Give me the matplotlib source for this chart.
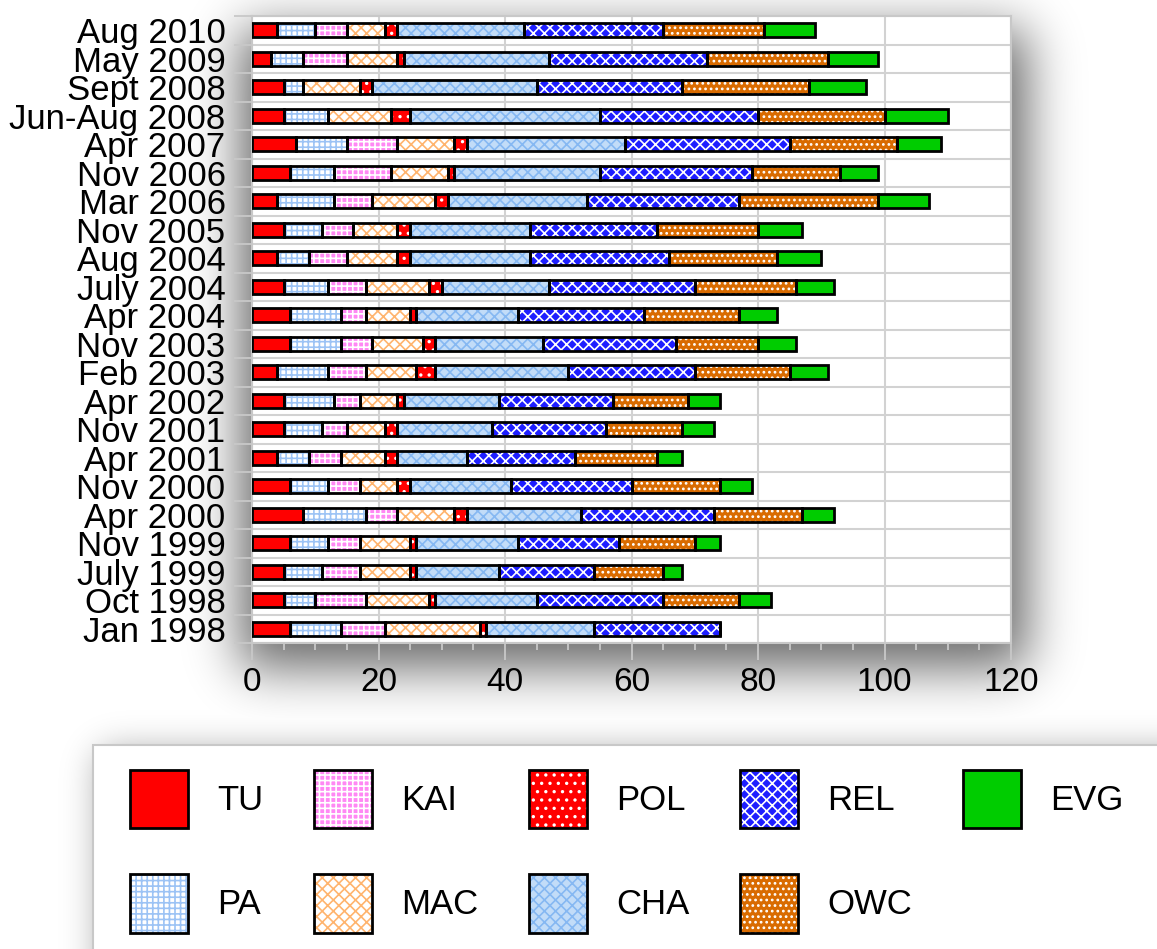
import math
import numpy as np
import matplotlib
matplotlib.use("Agg")
import matplotlib.pyplot as plt
from matplotlib.patches import Rectangle

plt.rcParams['font.family'] = ['Liberation Sans', 'DejaVu Sans']
plt.rcParams['hatch.linewidth'] = 1.2

# survey dates, top to bottom
categories = ["Aug 2010", "May 2009", "Sept 2008", "Jun-Aug 2008", "Apr 2007",
              "Nov 2006", "Mar 2006", "Nov 2005", "Aug 2004", "July 2004",
              "Apr 2004", "Nov 2003", "Feb 2003", "Apr 2002", "Nov 2001",
              "Apr 2001", "Nov 2000", "Apr 2000", "Nov 1999", "July 1999",
              "Oct 1998", "Jan 1998"]

TU = [4, 3, 5, 5, 7, 6, 4, 5, 4, 5, 6, 6, 4, 5, 5, 4, 6, 8, 6, 5, 5, 6]
PA = [6, 5, 3, 7, 8, 7, 9, 6, 5, 7, 8, 8, 8, 8, 6, 5, 6, 10, 6, 6, 5, 8]
KAI = [5, 7, 0, 0, 8, 9, 6, 5, 6, 6, 4, 5, 6, 4, 4, 5, 5, 5, 5, 6, 8, 7]
MAC = [6, 8, 9, 10, 9, 9, 10, 7, 8, 10, 7, 8, 8, 6, 6, 7, 6, 9, 8, 8, 10, 15]
POL = [2, 1, 2, 3, 2, 1, 2, 2, 2, 2, 1, 2, 3, 1, 2, 2, 2, 2, 1, 1, 1, 1]
CHA = [20, 23, 26, 30, 25, 23, 22, 19, 19, 17, 16, 17, 21, 15, 15, 11, 16, 18, 16, 13, 16, 17]
REL = [22, 25, 23, 25, 26, 24, 24, 20, 22, 23, 20, 21, 20, 18, 18, 17, 19, 21, 16, 15, 20, 20]
OWC = [16, 19, 20, 20, 17, 14, 22, 16, 17, 16, 15, 13, 15, 12, 12, 13, 14, 14, 12, 11, 12, 0]
EVG = [8, 8, 9, 10, 7, 6, 8, 7, 7, 6, 6, 6, 6, 5, 5, 4, 5, 5, 4, 3, 5, 0]

series_names = ["TU", "PA", "KAI", "MAC", "POL", "CHA", "REL", "OWC", "EVG"]
series_vals = [TU, PA, KAI, MAC, POL, CHA, REL, OWC, EVG]
# (face, hatch, hatch colour)
styles = [
    ("#ff0000", None, None),
    ("#ffffff", "+++", "#9cc3f5"),
    ("#ff88f4", "+++", "#ffffff"),
    ("#ffffff", "xxx", "#ffb46e"),
    ("#ff0000", "..", "#ffffff"),
    ("#c2dcf8", "xxx", "#86b8f2"),
    ("#1e1eff", "xxx", "#ffffff"),
    ("#d96b00", "...", "#ffffff"),
    ("#00cc00", None, None),
]

W, H = 1157, 949
fig = plt.figure(figsize=(W / 100, H / 100), dpi=100)

# background: soft drop shadows + legend frame
bg = fig.add_axes([0, 0, 1, 1], zorder=0)
bg.set_xlim(0, W)
bg.set_ylim(H, 0)
bg.axis('off')

erf = np.vectorize(math.erf)


def soft(n, a, b, s):
    c = np.arange(n) + 0.5
    return 0.5 * (erf((c - a) / (s * 1.4142)) - erf((c - b) / (s * 1.4142)))


sh1 = 0.6 * np.outer(soft(H, 30, 668, 26), soft(W, 240, 1027, 25))
sh2 = 0.40 * np.outer(soft(H, 752, 1100, 18), soft(W, 100, 1300, 18))
alpha = np.maximum(sh1, sh2)
img = np.zeros((H, W, 4))
img[..., 3] = alpha
bg.imshow(img, extent=[0, W, H, 0], interpolation='bilinear', zorder=0)
bg.add_patch(Rectangle((93, 745), 1120, 260, facecolor='white',
                       edgecolor='#c8c8c8', lw=1.5, zorder=1))

ax = fig.add_axes([252 / W, 1 - 643 / H, (1011 - 252) / W, (643 - 16) / H], zorder=1)
ax.set_facecolor('white')

y = np.arange(len(categories))
left = np.zeros(len(categories))
handles = []
for name, vals, (fc, hatch, hc) in zip(series_names, series_vals, styles):
    vals = np.array(vals, dtype=float)
    fill = ax.barh(y, vals, left=left, height=0.5, color=fc,
                   edgecolor=hc if hc else fc, linewidth=0, hatch=hatch, zorder=2)
    edge = ax.barh(y, vals, left=left, height=0.5, fill=False,
                   edgecolor='black', linewidth=2, zorder=3)
    handles.append((fill[0], edge[0]))
    left += vals

ax.set_xlim(0, 120)
ax.set_ylim(len(categories) - 0.5, -0.5)
ax.set_xticks(np.arange(0, 121, 20))
ax.set_xticks(np.arange(0, 121, 5), minor=True)
ax.set_yticks(np.arange(-0.5, len(categories), 1))
ax.set_yticks(y, labels=categories, minor=True)

ax.tick_params(axis='y', which='major', length=13, width=1.3, color='#c8c8c8', labelleft=False)
ax.tick_params(axis='y', which='minor', length=0, pad=19, labelsize=25)
ax.tick_params(axis='x', which='major', length=12, width=1.3, color='#c8c8c8', labelsize=24, pad=5)
ax.tick_params(axis='x', which='minor', length=5, width=1.3, color='#c8c8c8')

ax.grid(axis='both', which='major', color='#d2d2d2', lw=1.5, zorder=0)
ax.set_axisbelow(True)
for sp in ax.spines.values():
    sp.set_color('#c8c8c8')
    sp.set_linewidth(1.5)

fig.legend(handles, series_names, ncol=5, loc='upper left',
           bbox_to_anchor=(130 / W, 1 - 770 / H), frameon=False, fontsize=25,
           handlelength=1.67, handleheight=2.2, handletextpad=0.85,
           columnspacing=1.45, labelspacing=1.33, borderpad=0, borderaxespad=0)

fig.savefig("out.png", dpi=100)
